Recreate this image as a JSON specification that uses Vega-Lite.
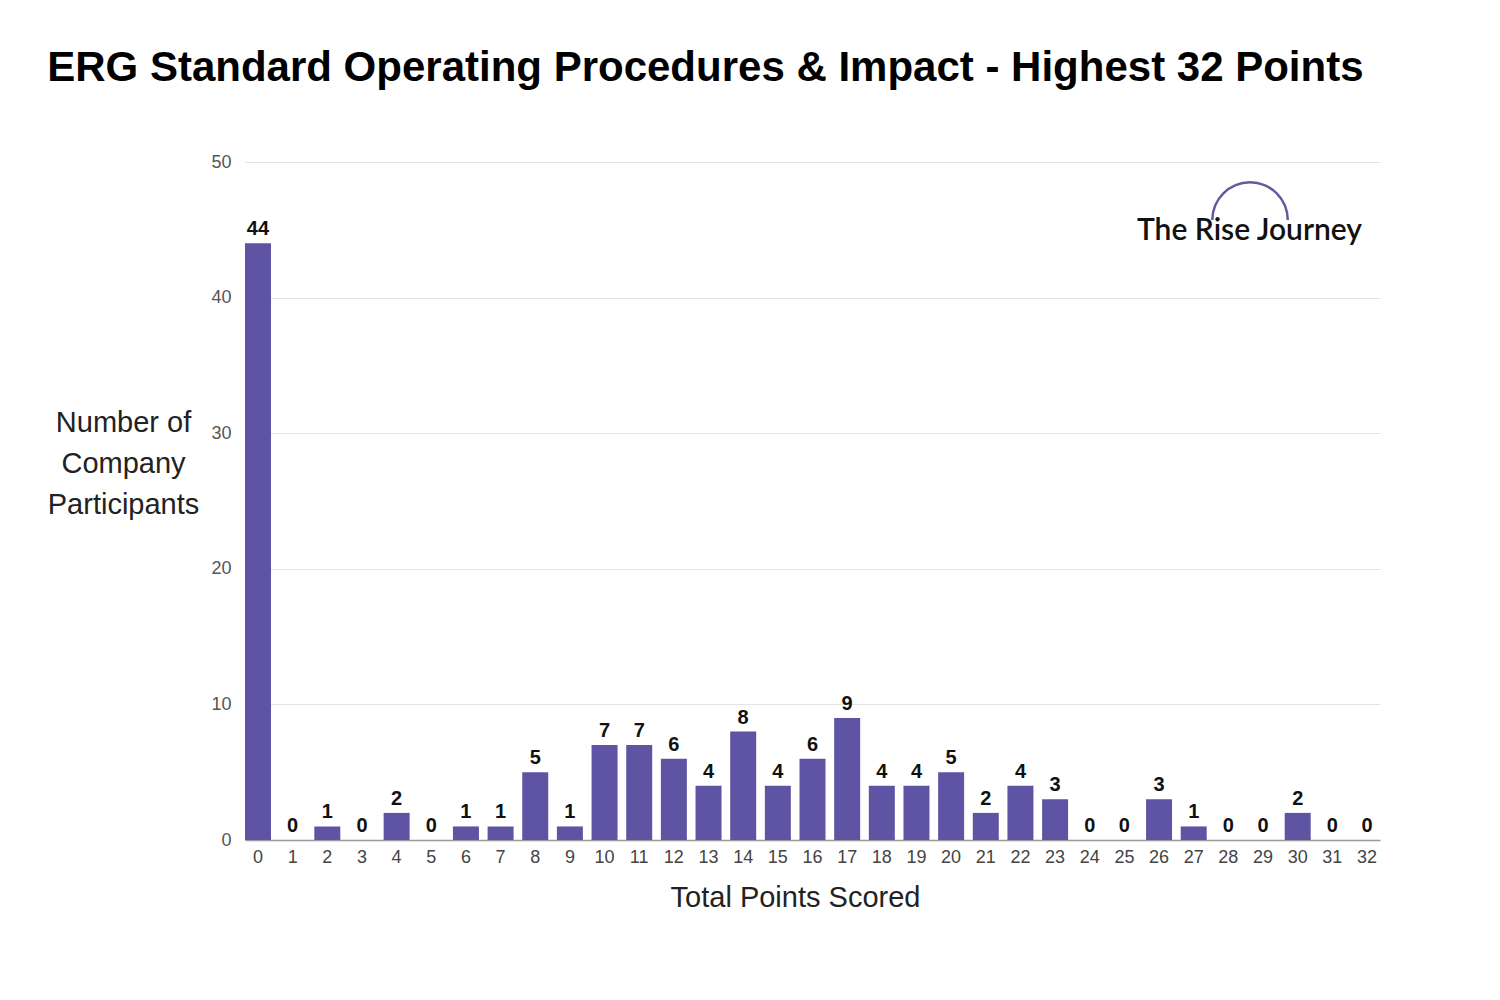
{
  "$schema": "https://vega.github.io/schema/vega-lite/v6.json",
  "width": 1135,
  "height": 678,
  "autosize": {"type": "none"},
  "padding": {"left": 245, "top": 162, "right": 120, "bottom": 160},
  "background": "white",
  "config": {
    "view": {"stroke": null},
    "font": "Liberation Sans"
  },
  "title": {
    "text": "ERG Standard Operating Procedures & Impact - Highest 32 Points",
    "anchor": "start",
    "dx": 0,
    "offset": 30,
    "baseline": "alphabetic",
    "fontSize": 42,
    "fontWeight": "bold",
    "font": "Liberation Sans",
    "color": "#000000"
  },
  "datasets": {
    "bars": [
      {"points": "0", "count": 44}, {"points": "1", "count": 0}, {"points": "2", "count": 1},
      {"points": "3", "count": 0}, {"points": "4", "count": 2}, {"points": "5", "count": 0},
      {"points": "6", "count": 1}, {"points": "7", "count": 1}, {"points": "8", "count": 5},
      {"points": "9", "count": 1}, {"points": "10", "count": 7}, {"points": "11", "count": 7},
      {"points": "12", "count": 6}, {"points": "13", "count": 4}, {"points": "14", "count": 8},
      {"points": "15", "count": 4}, {"points": "16", "count": 6}, {"points": "17", "count": 9},
      {"points": "18", "count": 4}, {"points": "19", "count": 4}, {"points": "20", "count": 5},
      {"points": "21", "count": 2}, {"points": "22", "count": 4}, {"points": "23", "count": 3},
      {"points": "24", "count": 0}, {"points": "25", "count": 0}, {"points": "26", "count": 3},
      {"points": "27", "count": 1}, {"points": "28", "count": 0}, {"points": "29", "count": 0},
      {"points": "30", "count": 2}, {"points": "31", "count": 0}, {"points": "32", "count": 0}
    ],
    "logo": [{"points": "32", "count": 44.25, "label": "The Rise Journey"}],
    "arc": [{"points": "29", "count": 45.72}]
  },
  "layer": [
    {
      "data": {"name": "bars"},
      "mark": {"type": "bar", "color": "#5f54a4"},
      "encoding": {
        "x": {
          "field": "points", "type": "ordinal", "sort": null,
          "scale": {"paddingInner": 0.25, "paddingOuter": 0},
          "axis": {
            "title": "Total Points Scored",
            "labelAngle": 0,
            "labelFontSize": 18,
            "labelColor": "#444444",
            "labelPadding": 8,
            "ticks": false,
            "domainColor": "#999999",
            "domainWidth": 1.5,
            "titleFontSize": 29,
            "titleFontWeight": "normal",
            "titleColor": "#222222",
            "titleBaseline": "alphabetic",
            "titleY": 66,
            "titleX": 550
          }
        },
        "y": {
          "field": "count", "type": "quantitative",
          "scale": {"domain": [0, 50]},
          "axis": {
            "values": [0, 10, 20, 30, 40, 50],
            "title": ["Number of", "Company", "Participants"],
            "titleAngle": 0,
            "titleAlign": "center",
            "titleBaseline": "alphabetic",
            "titleX": -122,
            "titleY": 269,
            "titleLineHeight": 41,
            "titleFontSize": 29,
            "titleFontWeight": "normal",
            "titleColor": "#222222",
            "labelFontSize": 18,
            "labelColor": "#555555",
            "labelPadding": 14,
            "ticks": false,
            "domain": false,
            "gridColor": "#e3e3e3",
            "gridWidth": 1
          }
        }
      }
    },
    {
      "data": {"name": "bars"},
      "mark": {"type": "text", "baseline": "alphabetic", "dy": -8, "fontSize": 20, "fontWeight": "bold", "color": "#111111"},
      "encoding": {
        "x": {"field": "points", "type": "ordinal", "sort": null},
        "y": {"field": "count", "type": "quantitative"},
        "text": {"field": "count", "type": "quantitative"}
      }
    },
    {
      "data": {"name": "arc"},
      "mark": {"type": "arc", "radius": 39, "radius2": 36.5, "theta": -1.5708, "theta2": 1.5708, "color": "#635b9f"},
      "encoding": {
        "x": {"field": "points", "type": "ordinal", "sort": null, "bandPosition": 0},
        "y": {"field": "count", "type": "quantitative"}
      }
    },
    {
      "data": {"name": "logo"},
      "mark": {"type": "text", "align": "right", "baseline": "alphabetic", "dx": -5, "fontSize": 30, "font": "Lato", "fontWeight": 600, "color": "#111111"},
      "encoding": {
        "x": {"field": "points", "type": "ordinal", "sort": null},
        "y": {"field": "count", "type": "quantitative"},
        "text": {"field": "label"}
      }
    }
  ]
}
